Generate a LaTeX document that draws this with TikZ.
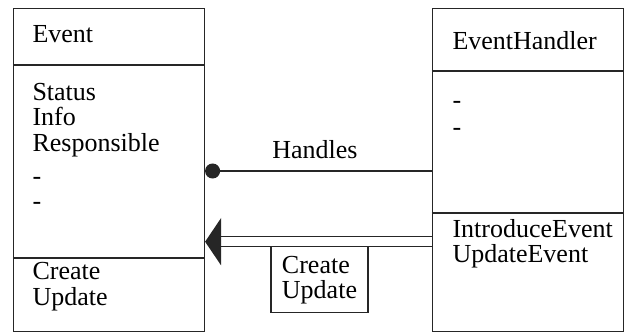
\documentclass[tikz,border=0pt]{standalone}
\usepackage{fontspec}
\setmainfont{Liberation Serif}
\usetikzlibrary{arrows.meta,positioning}

\begin{document}
\begin{tikzpicture}[
    x=1pt, y=-1pt,
    >=Latex,
    classbox/.style={
      draw=black!85,
      line width=1.2pt,
      minimum width=191pt,
      minimum height=323pt,
      inner sep=0pt
    },
    member/.style={
      anchor=base west,
      inner sep=0pt,
      font=\fontsize{26}{25}\selectfont
    },
    msgbox/.style={
      draw=black!85,
      line width=1.2pt,
      align=left,
      minimum width=97pt,
      minimum height=66pt,
      inner sep=0pt,
      font=\fontsize{26}{25}\selectfont
    },
    divider/.style={draw=black!85, line width=1.2pt},
    link/.style={draw=black!85, line width=1.2pt}
  ]
    \useasboundingbox (0,0) rectangle (627,334);

    % the two classes
    \node[classbox] (event) at (109,169.7) {};
    \node[classbox] (handler) at (527.8,169.7) {};

    \draw[divider] (event.west |- 0,65) -- (event.east |- 0,65);
    \draw[divider] (event.west |- 0,258) -- (event.east |- 0,258);
    \draw[divider] (handler.west |- 0,71) -- (handler.east |- 0,71);
    \draw[divider] (handler.west |- 0,213) -- (handler.east |- 0,213);

    \node[member] (evname) at (32.3,42.3) {Event};
    \foreach \txt/\y [count=\i] in {Status/100.7, Info/126, Responsible/151.7, -/184.5, -/209.5}
      \node[member] (evattr\i) at (32.3,\y) {\txt};
    \node[member] (evop1) at (32.3,279.3) {Create};
    \node[member] (evop2) at (32.3,305) {Update};

    \node[member] (hname) at (452.3,49.3) {EventHandler};
    \node[member] (hattr1) at (452.3,108.5) {-};
    \node[member] (hattr2) at (452.3,135.5) {-};
    \node[member] (hop1) at (452.3,237.3) {IntroduceEvent};
    \node[member] (hop2) at (452.3,262.3) {UpdateEvent};

    % association
    \draw[link, -{Circle[length=15pt]}] (handler.west |- 0,171) -- (event.east |- 0,171);
    \node[member, anchor=base] (handles) at (315,159) {Handles};

    % messages sent to Event
    \draw[link, shorten >=4pt] (handler.west |- 0,236.7) -- (event.east |- 0,236.7);
    \draw[link, shorten >=4pt] (handler.west |- 0,246.7) -- (event.east |- 0,246.7);
    \fill[black!85] (event.east |- 0,241.7) -- ++(16,-23.7) -- ++(0,47.4) -- cycle;
    \node[msgbox] (msg) at (319.5,279.7) {Create\\Update};
  \end{tikzpicture}
\end{document}
